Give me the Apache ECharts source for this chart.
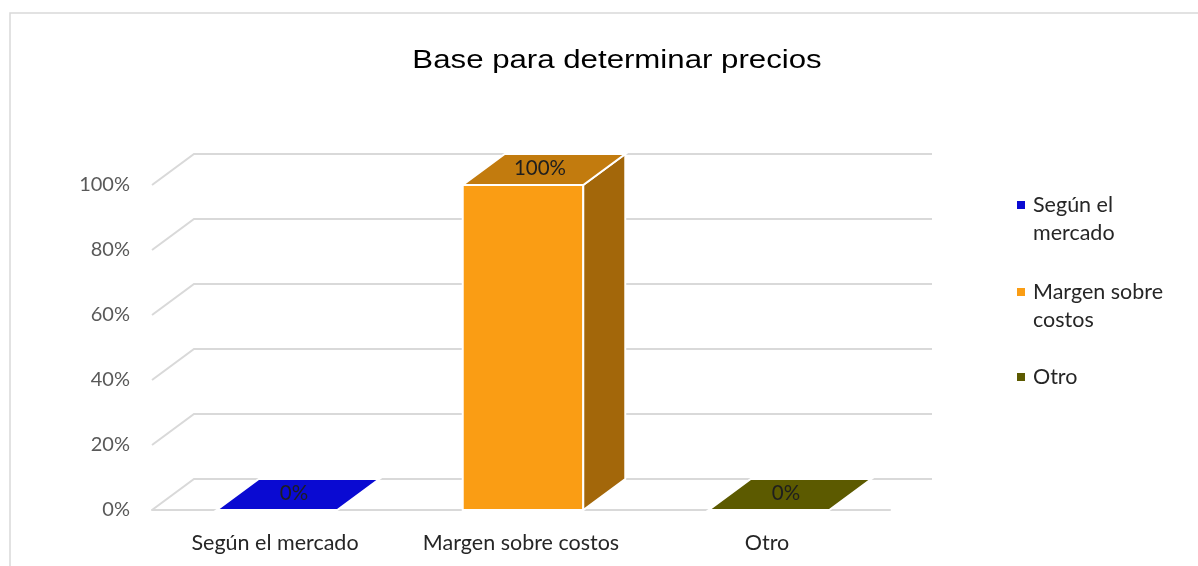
<!DOCTYPE html>
<html>
<head>
<meta charset="utf-8">
<script src="https://cdn.jsdelivr.net/npm/echarts@6/dist/echarts.min.js"></script>
<style>
  body { margin: 0; background: #fff; }
  #chart { width: 1198px; height: 566px; }
</style>
</head>
<body>
<div id="chart"></div>
<script>
var categories = ['Según el mercado', 'Margen sobre costos', 'Otro'];
var values = [0, 1, 0];
var legendLabels = ['Según el\nmercado', 'Margen sobre\ncostos', 'Otro'];
var yTicks = [0, 0.2, 0.4, 0.6, 0.8, 1];
var chartTitle = 'Base para determinar precios';

// colours per bar: front, top, side
var faces = [
  ['#0a0ad2', '#0a0ad2', '#0808a8'],
  ['#fa9d14', '#c27b0e', '#a3670a'],
  ['#5c5a00', '#5c5a00', '#474600']
];

// depth offset of the fake 3D
var DX = 42, DY = 31;

var chart = echarts.init(document.getElementById('chart'));

function barRender(idx) {
  return function (params, api) {
    var base = api.coord([api.value(0), 0]);
    var top = api.coord([api.value(0), api.value(1)]);
    var bw = api.size([1, 0])[0] * 0.49;
    var x0 = top[0] - bw / 2 + 2, x1 = x0 + bw;
    var ty = top[1], by = base[1];
    var c = faces[idx];
    var stroke = { stroke: '#fff', lineWidth: 2 };
    var kids = [];
    if (by - ty > 0.5) {
      kids.push({ type: 'rect', shape: { x: x0, y: ty, width: bw, height: by - ty },
        style: Object.assign({ fill: c[0] }, stroke) });
      kids.push({ type: 'polygon', shape: { points: [[x1, ty], [x1 + DX, ty - DY], [x1 + DX, by - DY], [x1, by]] },
        style: Object.assign({ fill: c[2] }, stroke) });
    }
    kids.push({ type: 'polygon', shape: { points: [[x0, ty], [x0 + DX, ty - DY], [x1 + DX, ty - DY], [x1, ty]] },
      style: Object.assign({ fill: c[1] }, stroke) });
    kids.push({ type: 'text', x: (x0 + x1) / 2 + DX / 2 - 4, y: ty - DY / 2 - 1,
      style: { text: Math.round(api.value(1) * 100) + '%', fill: '#1e1e1e', font: '20.5px Lato',
        align: 'center', verticalAlign: 'middle' } });
    return { type: 'group', children: kids };
  };
}

var series = [{
  type: 'custom',
  name: 'grid',
  silent: true,
  z: 1,
  data: yTicks.map(function (v) { return [0, v]; }),
  renderItem: function (params, api) {
    var y = api.coord([0, api.value(1)])[1];
    var l = params.coordSys.x, r = l + params.coordSys.width;
    return { type: 'polyline', shape: { points: [[l, y], [l + DX, y - DY], [r + DX, y - DY]] },
      style: { stroke: '#d9d9d9', lineWidth: 2, fill: null } };
  }
}];

categories.forEach(function (name, i) {
  series.push({
    type: 'custom',
    name: name,
    z: 3,
    itemStyle: { color: faces[i][0] },
    data: [[i, values[i]]],
    renderItem: barRender(i)
  });
});

// square sits at the first text line of a two-line legend item
var iconTop = 'path://M0,0h8v8h-8zM11,36h0.01v0.01h-0.01z';
var iconOne = 'path://M0,0h8v8h-8zM11,8h0.01v0.01h-0.01z';
var legendText = { fontFamily: 'Lato', fontSize: 21.5, color: '#262626', lineHeight: 28 };
var legendFmt = function (n) { return legendLabels[categories.indexOf(n)]; };

chart.setOption({
  animation: false,
  backgroundColor: '#fff',
  graphic: [{
    type: 'rect', shape: { x: 10, y: 13, width: 1200, height: 570 },
    style: { fill: null, stroke: '#d9d9d9', lineWidth: 1.5 }, silent: true
  }, {
    type: 'text', x: 617, y: 61, scaleX: 1.2, silent: true,
    style: { text: chartTitle, font: '26px "Liberation Sans"', fill: '#000',
      align: 'center', verticalAlign: 'middle' }
  }],
  legend: [{
    orient: 'vertical',
    left: 1017, top: 191,
    padding: 0,
    itemWidth: 11, itemHeight: 36,
    itemGap: 31,
    symbolKeepAspect: true,
    data: [
      { name: categories[0], icon: iconTop },
      { name: categories[1], icon: iconTop }
    ],
    formatter: legendFmt,
    textStyle: legendText
  }, {
    orient: 'vertical',
    left: 1017, top: 363,
    padding: 0,
    itemWidth: 11, itemHeight: 8,
    symbolKeepAspect: true,
    data: [{ name: categories[2], icon: iconOne }],
    formatter: legendFmt,
    textStyle: legendText
  }],
  grid: { left: 152, top: 185, width: 738, height: 325 },
  xAxis: {
    type: 'category',
    data: categories,
    axisLine: { lineStyle: { color: '#d9d9d9', width: 2 } },
    axisTick: { length: 8, lineStyle: { color: '#d9d9d9', width: 2 } },
    axisLabel: { margin: 22, interval: 0, hideOverlap: false,
      fontFamily: 'Lato', fontSize: 21.5, color: '#262626' }
  },
  yAxis: {
    type: 'value',
    min: 0, max: 1, interval: 0.2,
    axisLine: { show: false },
    axisTick: { show: false },
    splitLine: { show: false },
    axisLabel: { margin: 22, fontFamily: 'Lato', fontSize: 20, color: '#595959',
      formatter: function (v) { return Math.round(v * 100) + '%'; } }
  },
  series: series
});
</script>
</body>
</html>
